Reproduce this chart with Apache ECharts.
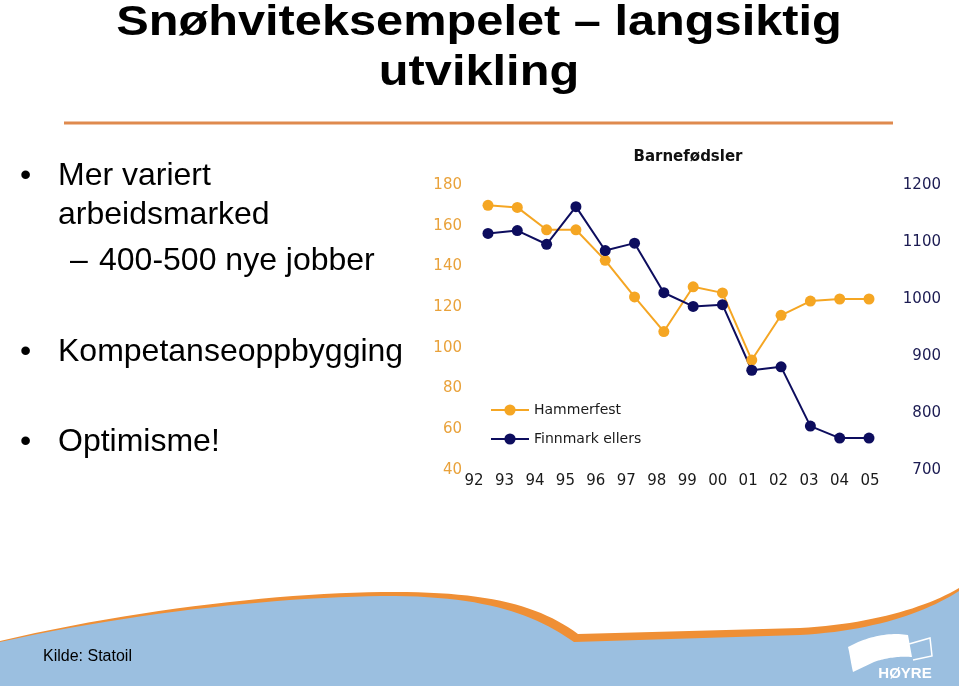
<!DOCTYPE html>
<html>
<head>
<meta charset="utf-8">
<title>Snøhviteksempelet</title>
<script src="https://cdn.jsdelivr.net/npm/echarts@6/dist/echarts.min.js"></script>
<style>
  html, body { margin: 0; padding: 0; background: #fff; }
  #slide { width: 959px; height: 686px; }
</style>
</head>
<body>
<div id="slide"></div>
<script>
// Barnefødsler
var years = ['92', '93', '94', '95', '96', '97', '98', '99', '00', '01', '02', '03', '04', '05'];
var hammerfest = [170, 169, 158, 158, 143, 125, 108, 130, 127, 94, 116, 123, 124, 124];
var finnmarkEllers = [1115, 1120, 1096, 1162, 1085, 1098, 1011, 987, 990, 875, 881, 777, 756, 756];
var bullets = ['Mer variert', 'arbeidsmarked', '400-500 nye jobber', 'Kompetanseoppbygging', 'Optimisme!'];

var orange = '#f5a623';
var navy = '#0d0d5e';
var chartFont = 'DejaVu Sans';

// turn a little list of M / C / L commands into polygon points (slide decoration only)
function outline(cmds) {
  var pts = [], cx = 0, cy = 0;
  cmds.forEach(function (c) {
    if (c[0] === 'M' || c[0] === 'L') {
      cx = c[1]; cy = c[2];
      pts.push([cx, cy]);
    } else if (c[0] === 'C') {
      for (var i = 1; i <= 24; i++) {
        var t = i / 24, u = 1 - t;
        pts.push([
          u * u * u * cx + 3 * u * u * t * c[1] + 3 * u * t * t * c[3] + t * t * t * c[5],
          u * u * u * cy + 3 * u * u * t * c[2] + 3 * u * t * t * c[4] + t * t * t * c[6]
        ]);
      }
      cx = c[5]; cy = c[6];
    }
  });
  return pts;
}

var rimShape = outline([
  ['M', 0, 641], ['C', 140, 608, 290, 592, 395, 592], ['C', 490, 592, 540, 606, 578, 634],
  ['L', 800, 628], ['C', 870, 624, 925, 608, 959, 588], ['L', 959, 686], ['L', 0, 686]
]);
var seaShape = outline([
  ['M', 0, 642], ['C', 140, 611, 290, 596, 395, 596], ['C', 488, 597, 535, 615, 574, 642],
  ['L', 800, 635], ['C', 872, 631, 925, 613, 959, 591], ['L', 959, 686], ['L', 0, 686]
]);
var flagShape = outline([
  ['M', 848, 647], ['C', 868, 636, 890, 632, 908, 635], ['L', 912, 657],
  ['C', 899, 656, 885, 658, 874, 662], ['L', 853, 672], ['C', 851, 664, 850, 655, 848, 647]
]);

function slideText(x, y, text, font, extra) {
  var el = {
    type: 'text', x: x, y: y, z: 10,
    style: { text: text, fill: '#000', font: font, verticalAlign: 'middle' }
  };
  if (extra) {
    for (var k in extra) el.style[k] = extra[k];
  }
  return el;
}

var chart = echarts.init(document.getElementById('slide'));

chart.setOption({
  animation: false,
  backgroundColor: '#fff',
  grid: [
    { left: 488, right: 90, top: 185, height: 285 },
    // only carries the year labels, which sit a bit left of the points in the original
    { left: 474, right: 89, top: 185, height: 285 }
  ],
  xAxis: [
    { type: 'category', gridIndex: 0, data: years, boundaryGap: false, show: false },
    {
      type: 'category', gridIndex: 1, data: years, boundaryGap: false,
      axisLine: { show: false }, axisTick: { show: false },
      axisLabel: { color: '#1a1a1a', fontFamily: chartFont, fontSize: 15, margin: 4 }
    }
  ],
  yAxis: [
    {
      type: 'value', gridIndex: 0, position: 'left', min: 40, max: 180, interval: 20,
      axisLine: { show: false }, axisTick: { show: false }, splitLine: { show: false },
      axisLabel: { color: '#e9a23b', fontFamily: chartFont, fontSize: 15, margin: 26 }
    },
    {
      type: 'value', gridIndex: 0, position: 'right', min: 700, max: 1200, interval: 100,
      axisLine: { show: false }, axisTick: { show: false }, splitLine: { show: false },
      axisLabel: {
        color: '#1b1b52', fontFamily: chartFont, fontSize: 15, align: 'right', margin: 72,
        formatter: function (v) { return String(v); }
      }
    },
    { type: 'value', gridIndex: 1, show: false }
  ],
  legend: {
    orient: 'vertical',
    left: 485,
    top: 398,
    itemWidth: 38,
    itemHeight: 14,
    itemGap: 15,
    textStyle: { color: '#1a1a1a', fontFamily: chartFont, fontSize: 14 },
    data: ['Hammerfest', 'Finnmark ellers']
  },
  series: [
    {
      name: 'Hammerfest', type: 'line', xAxisIndex: 0, yAxisIndex: 0,
      data: hammerfest, symbol: 'circle', symbolSize: 11,
      lineStyle: { color: orange, width: 2 }, itemStyle: { color: orange }
    },
    {
      name: 'Finnmark ellers', type: 'line', xAxisIndex: 0, yAxisIndex: 1,
      data: finnmarkEllers, symbol: 'circle', symbolSize: 11,
      lineStyle: { color: navy, width: 2 }, itemStyle: { color: navy }
    }
  ],
  graphic: [
    // slide title
    {
      type: 'text', x: 479, y: 23, scaleX: 1.16, z: 10,
      style: { text: 'Snøhviteksempelet – langsiktig', fill: '#000', font: 'bold 42px "Liberation Sans"', align: 'center', verticalAlign: 'middle' }
    },
    {
      type: 'text', x: 479, y: 73, scaleX: 1.16, z: 10,
      style: { text: 'utvikling', fill: '#000', font: 'bold 42px "Liberation Sans"', align: 'center', verticalAlign: 'middle' }
    },
    {
      type: 'line', z: 10,
      shape: { x1: 64, y1: 123, x2: 893, y2: 123 },
      style: { stroke: '#df8a4e', lineWidth: 3 }
    },
    // bullets
    slideText(20, 176, '•', '32px "Liberation Sans"'),
    slideText(58, 176, bullets[0], '32px "Liberation Sans"'),
    slideText(58, 215, bullets[1], '32px "Liberation Sans"'),
    slideText(70, 261, '–', '32px "Liberation Sans"'),
    slideText(99, 261, bullets[2], '32px "Liberation Sans"'),
    slideText(20, 352, '•', '32px "Liberation Sans"'),
    slideText(58, 352, bullets[3], '32px "Liberation Sans"'),
    slideText(20, 442, '•', '32px "Liberation Sans"'),
    slideText(58, 442, bullets[4], '32px "Liberation Sans"'),
    // chart heading
    slideText(688, 157, 'Barnefødsler', 'bold 15px "DejaVu Sans"', { align: 'center', fill: '#111' }),
    // bottom wave: orange rim, then blue body
    { type: 'polygon', z: -2, shape: { points: rimShape }, style: { fill: '#ef8f35' } },
    { type: 'polygon', z: -1, shape: { points: seaShape }, style: { fill: '#9bbfe0' } },
    slideText(43, 657, 'Kilde: Statoil', '16px "Liberation Sans"'),
    // Høyre logo
    { type: 'polygon', z: 10, shape: { points: flagShape }, style: { fill: '#fff' } },
    {
      type: 'polyline', z: 10,
      shape: { points: [[909, 644], [930, 638], [932, 656], [913, 660]] },
      style: { stroke: '#fff', lineWidth: 1.5, fill: null }
    },
    slideText(905, 674, 'HØYRE', 'bold 15px "Liberation Sans"', { align: 'center', fill: '#fff' })
  ]
});
</script>
</body>
</html>
